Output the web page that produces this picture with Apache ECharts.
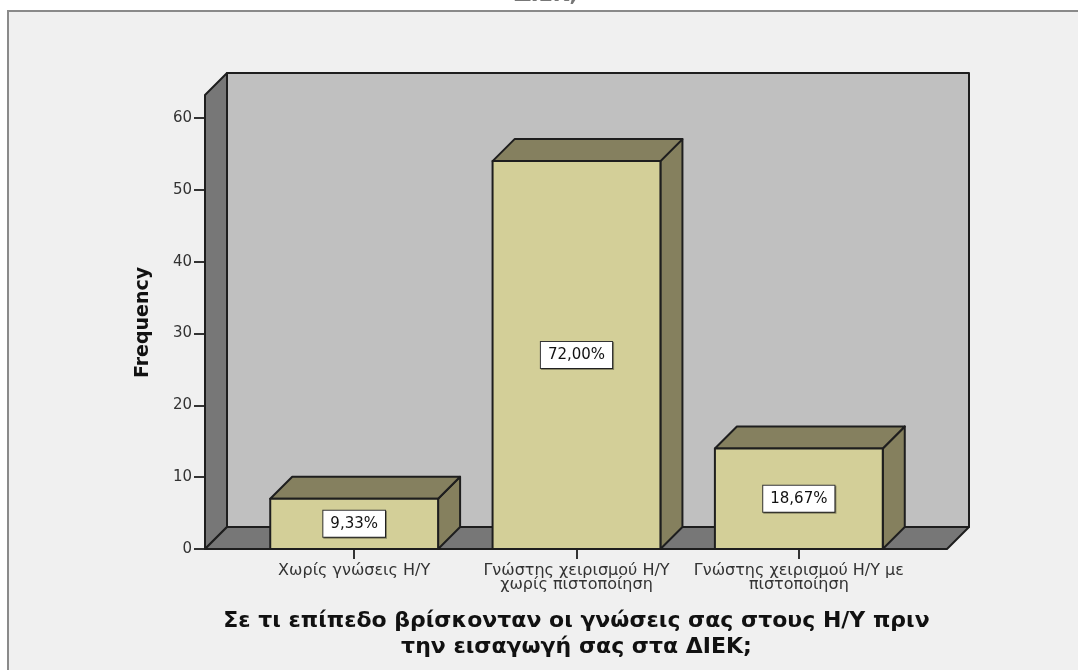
<!DOCTYPE html>
<html>
<head>
<meta charset="utf-8">
<script src="https://cdn.jsdelivr.net/npm/echarts@6/dist/echarts.min.js"></script>
<style>
  html, body { margin: 0; padding: 0; background: #fff; }
  #myChart { width: 1078px; height: 670px; }
</style>
</head>
<body>
<div id="myChart"></div>
<script>
// categories and frequencies (n = 75)
var categories = [
  'Χωρίς γνώσεις Η/Υ',
  'Γνώστης χειρισμού Η/Υ\nχωρίς πιστοποίηση',
  'Γνώστης χειρισμού Η/Υ με\nπιστοποίηση'
];
var frequencies = [7, 54, 14];
var yTicksMax = 60;
var wallTop = 63.2; // back wall reaches a bit above the last tick

var total = frequencies.reduce(function (a, b) { return a + b; }, 0);
var percentLabels = frequencies.map(function (v) {
  return (v / total * 100).toFixed(2).replace('.', ',') + '%';
});

// 3d depth offset, px
var DX = 22, DY = -22;
var EDGE = '#1e1e1e';
var FONT = '"DejaVu Sans", Verdana, sans-serif';

var chartDom = document.getElementById('myChart');
var myChart = echarts.init(chartDom);

function renderWalls(params, api) {
  var cs = params.coordSys;
  var xL = cs.x - 38;
  var xR = cs.x + cs.width + 37;
  var y0 = api.coord([0, 0])[1];
  var yT = api.coord([0, wallTop])[1];
  var line = { stroke: EDGE, lineWidth: 2, lineJoin: 'round' };
  return {
    type: 'group',
    children: [
      {
        type: 'rect',
        shape: { x: xL + DX, y: yT + DY, width: xR - xL, height: y0 - yT },
        style: Object.assign({ fill: '#c0c0c0' }, line)
      },
      {
        type: 'polygon',
        shape: { points: [[xL, yT], [xL + DX, yT + DY], [xL + DX, y0 + DY], [xL, y0]] },
        style: Object.assign({ fill: '#777777' }, line)
      },
      {
        type: 'polygon',
        shape: { points: [[xL, y0], [xL + DX, y0 + DY], [xR + DX, y0 + DY], [xR, y0]] },
        style: Object.assign({ fill: '#777777' }, line)
      }
    ]
  };
}

function renderBar(params, api) {
  var idx = api.value(0);
  var top = api.coord([idx, api.value(1)]);
  var base = api.coord([idx, 0]);
  var w = api.size([1, 0])[0] * 0.755;
  var x = top[0] - w / 2;
  var y = top[1];
  var h = base[1] - y;
  var line = { stroke: EDGE, lineWidth: 2, lineJoin: 'round' };
  return {
    type: 'group',
    children: [
      {
        type: 'polygon',
        shape: { points: [[x + w, y], [x + w + DX, y + DY], [x + w + DX, base[1] + DY], [x + w, base[1]]] },
        style: Object.assign({ fill: '#85805e' }, line)
      },
      {
        type: 'polygon',
        shape: { points: [[x, y], [x + DX, y + DY], [x + w + DX, y + DY], [x + w, y]] },
        style: Object.assign({ fill: '#85805f' }, line)
      },
      {
        type: 'rect',
        shape: { x: x, y: y, width: w, height: h },
        style: Object.assign({ fill: '#d3cf98' }, line)
      },
      {
        type: 'text',
        x: top[0],
        y: y + h / 2,
        style: {
          text: percentLabels[idx],
          align: 'center',
          verticalAlign: 'middle',
          font: '15px ' + FONT,
          fill: '#111',
          backgroundColor: '#ffffff',
          borderColor: '#333',
          borderWidth: 1,
          padding: [6, 7, 5, 7],
          shadowColor: 'rgba(0,0,0,0.35)',
          shadowOffsetX: 1,
          shadowOffsetY: 1
        }
      }
    ]
  };
}

var option = {
  backgroundColor: '#ffffff',
  animation: false,
  graphic: [
    {
      type: 'rect',
      z: -10,
      shape: { x: 8, y: 11, width: 1090, height: 680 },
      style: { fill: '#f0f0f0', stroke: '#8a8a8a', lineWidth: 2 }
    },
    {
      type: 'text',
      z: -10,
      x: 546,
      y: -15,
      style: {
        text: 'ΔΙΕΚ;',
        align: 'center',
        font: 'bold 21px ' + FONT,
        fill: '#777'
      }
    }
  ],
  grid: {
    left: 243,
    right: 168,
    top: 118,
    bottom: 121,
    containLabel: false
  },
  xAxis: {
    type: 'category',
    data: categories,
    axisLine: { show: false },
    axisTick: { show: true, alignWithLabel: true, length: 10, lineStyle: { color: '#333', width: 2 } },
    axisLabel: {
      color: '#333',
      fontFamily: FONT,
      fontSize: 16,
      lineHeight: 14,
      margin: 15,
      interval: 0
    },
    name: 'Σε τι επίπεδο βρίσκονταν οι γνώσεις σας στους Η/Υ πριν\nτην εισαγωγή σας στα ΔΙΕΚ;',
    nameLocation: 'middle',
    nameGap: 59,
    nameTextStyle: {
      color: '#111',
      fontFamily: FONT,
      fontWeight: 'bold',
      fontSize: 22,
      lineHeight: 26
    }
  },
  yAxis: {
    type: 'value',
    min: 0,
    max: yTicksMax,
    interval: 10,
    offset: 38,
    axisLine: { show: false },
    axisTick: { show: true, length: 11, lineStyle: { color: '#333', width: 2 } },
    splitLine: { show: false },
    axisLabel: {
      color: '#333',
      fontFamily: FONT,
      fontSize: 15,
      margin: 13
    },
    name: 'Frequency',
    nameLocation: 'middle',
    nameRotate: 90,
    nameGap: 52,
    nameTextStyle: {
      color: '#111',
      fontFamily: FONT,
      fontWeight: 'bold',
      fontSize: 19,
      padding: [0, 0, 0, 22]
    }
  },
  series: [
    {
      type: 'custom',
      z: 1,
      silent: true,
      renderItem: renderWalls,
      data: [[0, 0]]
    },
    {
      type: 'custom',
      z: 2,
      renderItem: renderBar,
      encode: { x: 0, y: 1 },
      data: frequencies.map(function (v, i) { return [i, v]; })
    }
  ]
};

option && myChart.setOption(option);
</script>
</body>
</html>
